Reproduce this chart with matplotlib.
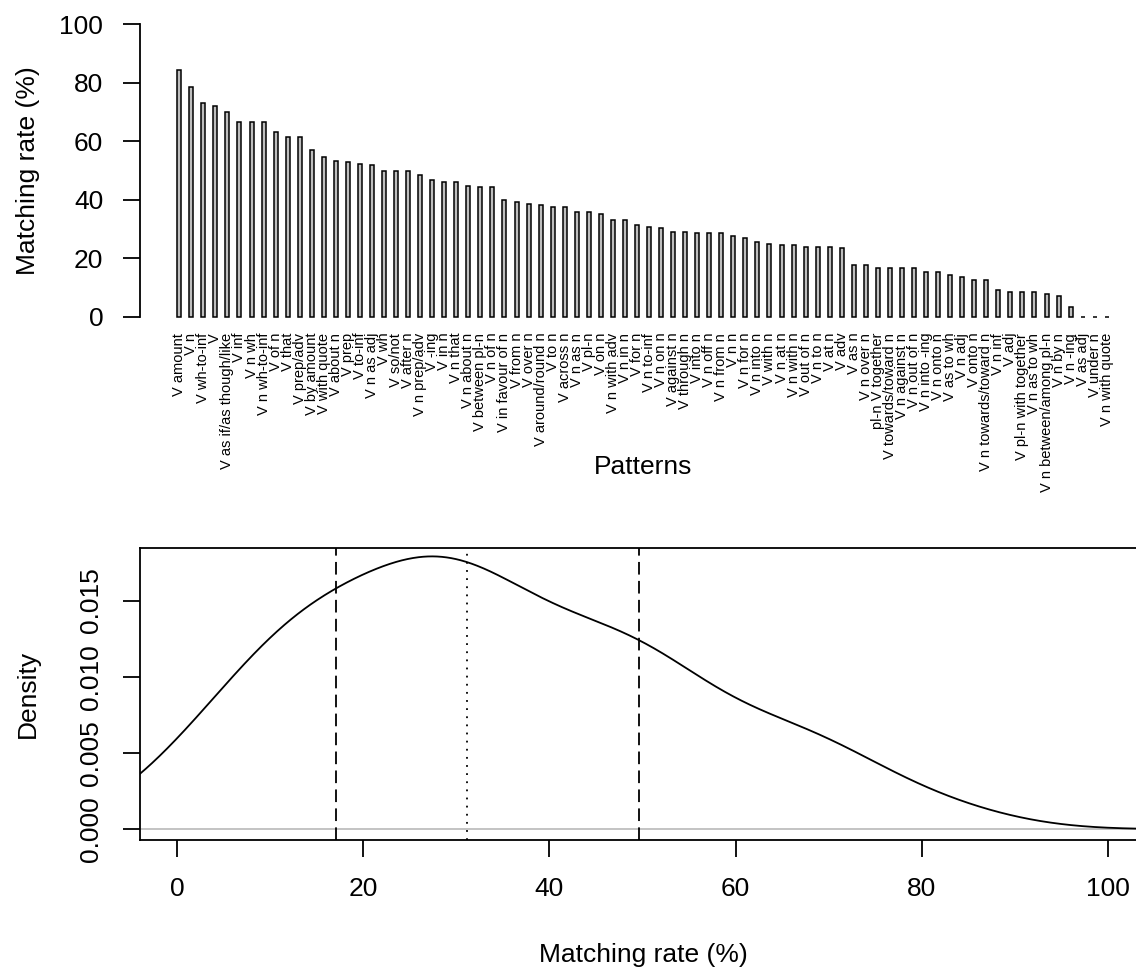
import numpy as np
import matplotlib
matplotlib.use("Agg")
import matplotlib.pyplot as plt

plt.rcParams['font.family'] = ['Liberation Sans', 'DejaVu Sans']

patterns = [
    "V amount", "V n", "V wh-to-inf", "V", "V as if/as though/like", "V inf", "V n wh",
    "V n wh-to-inf", "V of n", "V that", "V prep/adv", "V by amount", "V with quote",
    "V about n", "V prep", "V to-inf", "V n as adj", "V wh", "V so/not", "V after n",
    "V n prep/adv", "V -ing", "V in n", "V n that", "V n about n", "V between pl-n",
    "V n of n", "V in favour of n", "V from n", "V over n", "V around/round n", "V to n",
    "V across n", "V n as n", "V pl-n", "V on n", "V n with adv", "V n in n", "V for n",
    "V n to-inf", "V n on n", "V against n", "V through n", "V into n", "V n off n",
    "V n from n", "V n n", "V n for n", "V n into n", "V with n", "V n at n", "V n with n",
    "V out of n", "V n to n", "V at n", "V adv", "V as n", "V n over n", "pl-n V together",
    "V towards/toward n", "V n against n", "V n out of n", "V n into -ing", "V n onto n",
    "V as to wh", "V n adj", "V onto n", "V n towards/toward n", "V n inf", "V adj",
    "V pl-n with together", "V n as to wh", "V n between/among pl-n", "V n by n", "V n -ing",
    "V as adj", "V under n", "V n with quote",
]

rates = [
    84.2, 78.6, 72.9, 72.1, 69.8, 66.6, 66.6, 66.6, 63.3, 61.3, 61.3, 57.0, 54.5,
    53.4, 52.8, 52.3, 52.0, 50.0, 50.0, 50.0, 48.5, 46.7, 46.0, 46.0, 44.6, 44.3,
    44.3, 39.9, 39.2, 38.7, 38.1, 37.6, 37.4, 36.0, 35.8, 35.3, 33.2, 33.2, 31.4,
    30.8, 30.3, 29.0, 29.0, 28.7, 28.6, 28.5, 27.7, 26.8, 25.6, 24.8, 24.4, 24.4,
    24.0, 24.0, 23.8, 23.6, 17.7, 17.7, 16.8, 16.8, 16.8, 16.8, 15.5, 15.3, 14.4,
    13.7, 12.6, 12.6, 9.2, 8.6, 8.6, 8.6, 7.8, 7.1, 3.5, 0.0, 0.0, 0.0,
]

y_ticks_top = [0, 20, 40, 60, 80, 100]
x_ticks_bottom = [0, 20, 40, 60, 80, 100]
y_ticks_bottom = [0.000, 0.005, 0.010, 0.015]

W, H = 1136, 973
fig = plt.figure(figsize=(W / 100, H / 100), dpi=100)

FS = 19
LW = 1.3

def px_axes(left, right, top, bottom):
    return [left / W, 1 - bottom / H, (right - left) / W, (bottom - top) / H]

# ---------------- Top: bar chart ----------------
ax1 = fig.add_axes(px_axes(140, 1146, 12.3, 328.7))
data = np.array(rates)
n = len(data)
centers = 2.5 + 3 * np.arange(n)
ax1.bar(centers, data, width=1.0, color="#BEBEBE", edgecolor="black", linewidth=1.1)
ax1.set_xlim(2 - 0.04 * 232, 234 + 0.04 * 232)
ax1.set_ylim(-4, 104)
for s in ["top", "right", "bottom"]:
    ax1.spines[s].set_visible(False)
ax1.spines["left"].set_bounds(0, 100)
ax1.spines["left"].set_linewidth(LW)
ax1.set_yticks(y_ticks_top)
ax1.set_yticklabels([str(v) for v in y_ticks_top], fontsize=FS)
ax1.tick_params(axis="y", length=12.5, width=LW, pad=14)
ax1.set_xticks(centers)
ax1.set_xticklabels(patterns, rotation=90, fontsize=10.5, va="top", ha="center")
ax1.tick_params(axis="x", length=0, pad=3)
fig.text(643 / W, 1 - 467 / H, "Patterns", fontsize=FS, ha="center", va="center")
fig.text(28 / W, 1 - 170.5 / H, "Matching rate (%)", fontsize=FS, rotation=90,
         ha="center", va="center")

# ---------------- Bottom: density ----------------
ax2 = fig.add_axes(px_axes(140, 1145, 548, 840))
sd = data.std(ddof=1)
q1, med, q3 = np.percentile(data, [25, 50, 75])
bw = 0.9 * min(sd, (q3 - q1) / 1.34) * n ** (-0.2)
grid = np.linspace(-20, 120, 1400)
dens = np.exp(-0.5 * ((grid[:, None] - data[None, :]) / bw) ** 2).sum(axis=1) / (n * bw * np.sqrt(2 * np.pi))

ax2.axhline(0, color="#BEBEBE", linewidth=LW)
ax2.plot(grid, dens, color="black", linewidth=LW)
ax2.axvline(q1, color="black", linewidth=LW, linestyle=(0, (7, 3.5)))
ax2.axvline(q3, color="black", linewidth=LW, linestyle=(0, (7, 3.5)))
ax2.axvline(med, color="black", linewidth=LW, linestyle=(0, (1, 3.5)))
ax2.set_xlim(-4, 104)
ax2.set_ylim(-0.00071, 0.01845)
for s in ax2.spines.values():
    s.set_linewidth(LW)
ax2.set_xticks(x_ticks_bottom)
ax2.set_xticklabels([str(v) for v in x_ticks_bottom], fontsize=FS)
ax2.set_yticks(y_ticks_bottom)
ax2.set_yticklabels(["%.3f" % v for v in y_ticks_bottom], fontsize=FS, rotation=90, va="center")
ax2.tick_params(axis="both", length=12.5, width=LW, pad=14)
fig.text(643 / W, 1 - 955 / H, "Matching rate (%)", fontsize=FS, ha="center", va="center")
fig.text(28 / W, 1 - 694 / H, "Density", fontsize=FS, rotation=90, ha="center", va="center")

fig.savefig("out.png", dpi=100)
